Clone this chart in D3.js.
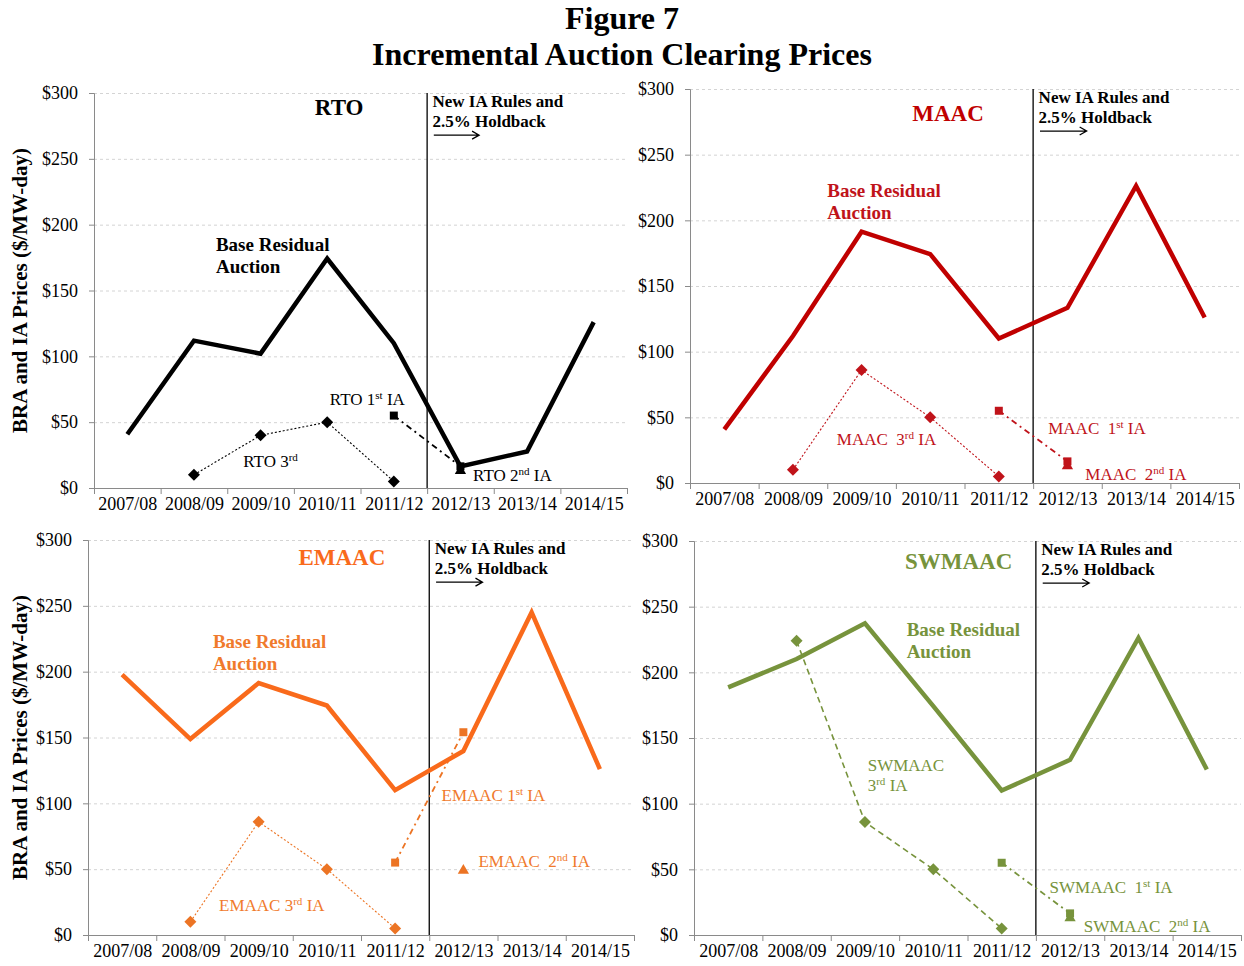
<!DOCTYPE html>
<html>
<head>
<meta charset="utf-8">
<script src="https://cdn.jsdelivr.net/npm/d3@7"></script>
<style>
  body { margin: 0; background: #fff; }
  svg, svg text { font-family: "Liberation Serif", "Times New Roman", serif; }
  text { white-space: pre; }
</style>
</head>
<body>
<svg id="chart" width="1244" height="966"></svg>
<script>
// delivery years
var years = ["2007/08", "2008/09", "2009/10", "2010/11", "2011/12", "2012/13", "2013/14", "2014/15"];
var yTicks = [0, 50, 100, 150, 200, 250, 300];

// Base Residual Auction prices ($/MW-day)
var rtoBRA    = [40.8, 111.92, 102.04, 174.29, 110, 16.46, 27.73, 125.99];
var maacBRA   = [40.8, 111.92, 191.32, 174.29, 110, 133.37, 226.15, 125.99];
var emaacBRA  = [197.67, 148.8, 191.32, 174.29, 110, 139.73, 245, 125.99];
var swmaacBRA = [188.54, 210.11, 237.33, 174.29, 110, 133.37, 226.15, 125.99];

// incremental auctions (null = no auction)
var rto3rd    = [null, 10, 40, 50, 5, null, null, null];
var rto1st    = [null, null, null, null, 55, 16.46, null, null];
var rto2nd    = [null, null, null, null, null, 13.01, null, null];
var maac3rd   = [null, 10, 86, 50, 5, null, null, null];
var maac1st   = [null, null, null, null, 55, 16.46, null, null];
var maac2nd   = [null, null, null, null, null, 13.01, null, null];
var emaac3rd  = [null, 10, 86, 50, 5, null, null, null];
var emaac1st  = [null, null, null, null, 55, 154, null, null];
var emaac2nd  = [null, null, null, null, null, 49, null, null];
var swmaac3rd = [null, 224, 86, 50, 5, null, null, null];
var swmaac1st = [null, null, null, null, 55, 16.46, null, null];
var swmaac2nd = [null, null, null, null, null, 13.01, null, null];

// series labels: text (^ toggles superscript), x in category units, y in $
var rtoLabels    = [["RTO 3^rd", 2.24, 16], ["RTO 1^st^ IA", 3.54, 63], ["RTO 2^nd^ IA", 5.69, 5]];
var maacLabels   = [["MAAC  3^rd^ IA", 2.14, 29], ["MAAC  1^st^ IA", 5.22, 37], ["MAAC  2^nd^ IA", 5.76, 2]];
var emaacLabels  = [["EMAAC 3^rd^ IA", 1.92, 18], ["EMAAC 1^st^ IA", 5.18, 102], ["EMAAC  2^nd^ IA", 5.72, 52]];
var swmaacLabels = [["SWMAAC", 2.54, 125], ["3^rd^ IA", 2.54, 110], ["SWMAAC  1^st^ IA", 5.2, 32], ["SWMAAC  2^nd^ IA", 5.7, 2]];

var panels = [
  { name: "RTO", bra: rtoBRA, ia3: rto3rd, ia1: rto1st, ia2: rto2nd, labels: rtoLabels,
    color: "#000000", mark: "#000000", text: "#000000", ia3dash: "2,2", ia3w: 1.1,
    titleAt: [3.68, 283], braAt: [1.83, 180], box: { left: 94, top: 93, width: 533, height: 395 }, ytitle: true },
  { name: "MAAC", bra: maacBRA, ia3: maac3rd, ia1: maac1st, ia2: maac2nd, labels: maacLabels,
    color: "#C00000", mark: "#C0131A", text: "#C0131A", ia3dash: "2,2", ia3w: 1.1,
    titleAt: [3.76, 276], braAt: [2.0, 218], box: { left: 690, top: 89, width: 549, height: 394 } },
  { name: "EMAAC", bra: emaacBRA, ia3: emaac3rd, ia1: emaac1st, ia2: emaac2nd, labels: emaacLabels,
    color: "#F96A1B", mark: "#EC7424", text: "#F07A2C", ia3dash: "2,2", ia3w: 1.1,
    titleAt: [3.72, 281], braAt: [1.83, 218], box: { left: 88, top: 540, width: 546, height: 395 }, ytitle: true },
  { name: "SWMAAC", bra: swmaacBRA, ia3: swmaac3rd, ia1: swmaac1st, ia2: swmaac2nd, labels: swmaacLabels,
    color: "#77933C", mark: "#77933C", text: "#77933C", ia3dash: "6,4", ia3w: 1.6,
    titleAt: [3.87, 279], braAt: [3.11, 228], box: { left: 694, top: 541, width: 547, height: 394 } }
];

var svg = d3.select("#chart");

svg.append("text").attr("x", 622).attr("y", 29).attr("text-anchor", "middle")
  .attr("font-size", 32).attr("font-weight", "bold").text("Figure 7");
svg.append("text").attr("x", 622).attr("y", 65).attr("text-anchor", "middle")
  .attr("font-size", 32).attr("font-weight", "bold").text("Incremental Auction Clearing Prices");

function supText(sel, str, size) {
  var parts = str.split("^");
  parts.forEach(function(p, i) {
    if (!p) return;
    var sup = i % 2 == 1;
    sel.append("tspan")
      .attr("font-size", sup ? size * 0.65 : size)
      .attr("baseline-shift", sup ? "super" : null)
      .text(p);
  });
}

var serif = "Liberation Serif";

panels.forEach(function(p) {
  var b = p.box;
  var g = svg.append("g").attr("transform", "translate(" + b.left + "," + b.top + ")");

  var x = d3.scaleLinear().domain([0, years.length]).range([0, b.width]);
  var y = d3.scaleLinear().domain([0, 300]).range([b.height, 0]);
  var cx = function(i) { return x(i + 0.5); };

  // gridlines
  g.append("g")
    .call(d3.axisLeft(y).tickValues(yTicks.slice(1)).tickSize(-b.width).tickFormat(""))
    .call(function(s) { s.select(".domain").remove(); })
    .selectAll("line").attr("stroke", "#d4d4d4").attr("stroke-dasharray", "3,3");

  // y axis
  var ya = g.append("g").call(d3.axisLeft(y).tickValues(yTicks).tickSize(5).tickFormat(function(d) { return "$" + d; }));
  ya.attr("font-family", serif);
  ya.selectAll("text").attr("font-size", 18).attr("font-family", serif).attr("fill", "#000").attr("dx", -8);
  ya.selectAll("line, path").attr("stroke", "#8a8a8a");

  // x axis: ticks at band edges, labels at centres
  var xa = g.append("g").attr("transform", "translate(0," + b.height + ")")
    .call(d3.axisBottom(x).tickValues(d3.range(years.length + 1)).tickSize(6).tickFormat(""));
  xa.selectAll("line, path").attr("stroke", "#8a8a8a");
  var xl = g.append("g").attr("transform", "translate(0," + b.height + ")")
    .call(d3.axisBottom(x).tickValues(d3.range(0.5, years.length, 1)).tickSize(0)
      .tickFormat(function(d) { return years[Math.floor(d)]; }));
  xl.attr("font-family", serif);
  xl.select(".domain").remove();
  xl.selectAll("text").attr("font-size", 18).attr("font-family", serif).attr("fill", "#000").attr("dy", "1.05em");

  // new rules divider
  g.append("line").attr("x1", x(5)).attr("x2", x(5)).attr("y1", y(300)).attr("y2", y(0))
    .attr("stroke", "#000").attr("stroke-width", 1.3);

  var line = d3.line()
    .defined(function(d) { return d != null; })
    .x(function(d, i) { return cx(i); })
    .y(function(d) { return y(d); });

  // 3rd IA
  g.append("path").datum(p.ia3).attr("d", line).attr("fill", "none")
    .attr("stroke", p.mark).attr("stroke-width", p.ia3w).attr("stroke-dasharray", p.ia3dash);
  // 1st IA
  g.append("path").datum(p.ia1).attr("d", line).attr("fill", "none")
    .attr("stroke", p.mark).attr("stroke-width", 1.8).attr("stroke-dasharray", "6,4,2,4");

  var pts = function(arr) {
    return arr.map(function(v, i) { return { i: i, v: v }; }).filter(function(d) { return d.v != null; });
  };
  // 2nd IA
  g.selectAll(".ia2").data(pts(p.ia2)).enter().append("path")
    .attr("d", d3.symbol().type(d3.symbolTriangle).size(55))
    .attr("transform", function(d) { return "translate(" + cx(d.i) + "," + y(d.v) + ")"; })
    .attr("fill", p.mark);

  // BRA
  g.append("path").datum(p.bra).attr("d", line).attr("fill", "none")
    .attr("stroke", p.color).attr("stroke-width", 4.5).attr("stroke-linejoin", "miter");

  g.selectAll(".ia3").data(pts(p.ia3)).enter().append("path")
    .attr("d", d3.symbol().type(d3.symbolSquare).size(72))
    .attr("transform", function(d) { return "translate(" + cx(d.i) + "," + y(d.v) + ") rotate(45)"; })
    .attr("fill", p.mark);
  g.selectAll(".ia1").data(pts(p.ia1)).enter().append("path")
    .attr("d", d3.symbol().type(d3.symbolSquare).size(64))
    .attr("transform", function(d) { return "translate(" + cx(d.i) + "," + y(d.v) + ")"; })
    .attr("fill", p.mark);

  // panel title
  g.append("text").attr("x", x(p.titleAt[0])).attr("y", y(p.titleAt[1])).attr("text-anchor", "middle")
    .attr("font-size", 23).attr("font-weight", "bold").attr("fill", p.color).text(p.name);

  // note on rule change
  g.append("text").attr("x", x(5.08)).attr("y", y(289)).attr("font-size", 17).attr("font-weight", "bold").text("New IA Rules and");
  g.append("text").attr("x", x(5.08)).attr("y", y(274)).attr("font-size", 17).attr("font-weight", "bold").text("2.5% Holdback");
  var ay = y(268), ax0 = x(5.1), ax1 = x(5.78);
  g.append("path").attr("d", "M" + ax0 + "," + ay + "H" + ax1 + "M" + (ax1 - 7) + "," + (ay - 4) + "L" + ax1 + "," + ay + "L" + (ax1 - 7) + "," + (ay + 4))
    .attr("fill", "none").attr("stroke", "#000").attr("stroke-width", 1.3);

  // BRA label
  g.append("text").attr("x", x(p.braAt[0])).attr("y", y(p.braAt[1])).attr("font-size", 19).attr("font-weight", "bold")
    .attr("fill", p.text).text("Base Residual");
  g.append("text").attr("x", x(p.braAt[0])).attr("y", y(p.braAt[1]) + 22).attr("font-size", 19).attr("font-weight", "bold")
    .attr("fill", p.text).text("Auction");

  // IA labels
  p.labels.forEach(function(l) {
    var t = g.append("text").attr("x", x(l[1])).attr("y", y(l[2])).attr("fill", p.text);
    supText(t, l[0], 17);
  });

  if (p.ytitle) {
    svg.append("text")
      .attr("transform", "translate(27," + (b.top + b.height / 2) + ") rotate(-90)")
      .attr("text-anchor", "middle").attr("font-size", 21).attr("font-weight", "bold")
      .text("BRA and IA Prices ($/MW-day)");
  }
});
</script>
</body>
</html>
